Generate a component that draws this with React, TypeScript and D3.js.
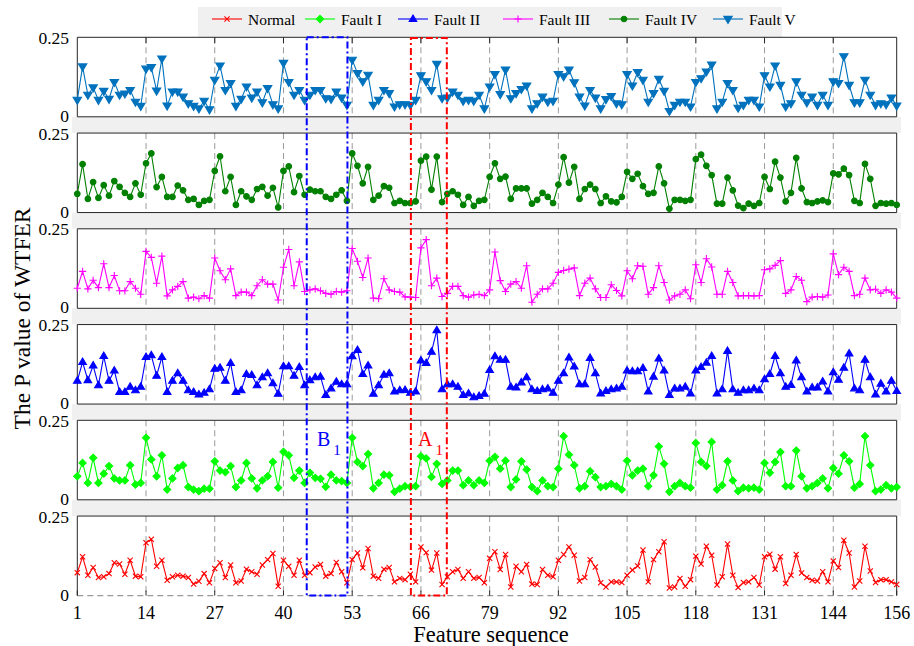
import React from 'react';
import * as d3 from 'd3';

// ---------- data ----------
const xTicks = [1, 14, 27, 40, 53, 66, 79, 92, 105, 118, 131, 144, 156];
const yTicks = [0, 0.25];
const yTickLabels = ['0', '0.25'];
const seriesNames = ['Normal', 'Fault I', 'Fault II', 'Fault III', 'Fault IV', 'Fault V'];

const normal = [0.072,0.122,0.064,0.088,0.057,0.059,0.069,0.103,0.099,0.067,0.111,0.061,0.059,0.166,0.177,0.092,0.111,0.048,0.059,0.064,0.061,0.057,0.036,0.045,0.069,0.040,0.085,0.103,0.057,0.096,0.040,0.046,0.083,0.075,0.067,0.096,0.113,0.132,0.029,0.111,0.092,0.064,0.111,0.064,0.072,0.090,0.098,0.061,0.069,0.104,0.075,0.040,0.113,0.134,0.087,0.148,0.061,0.054,0.083,0.088,0.043,0.054,0.050,0.067,0.043,0.153,0.135,0.080,0.134,0.035,0.059,0.075,0.082,0.054,0.075,0.054,0.057,0.040,0.117,0.138,0.082,0.129,0.027,0.092,0.075,0.098,0.036,0.035,0.082,0.064,0.059,0.111,0.129,0.153,0.127,0.046,0.057,0.113,0.090,0.040,0.027,0.043,0.043,0.041,0.064,0.080,0.093,0.143,0.043,0.113,0.138,0.169,0.024,0.027,0.054,0.029,0.050,0.124,0.099,0.155,0.127,0.033,0.059,0.162,0.064,0.025,0.041,0.043,0.057,0.033,0.122,0.130,0.083,0.122,0.038,0.064,0.129,0.071,0.057,0.048,0.046,0.075,0.043,0.109,0.088,0.174,0.134,0.027,0.046,0.155,0.077,0.041,0.050,0.050,0.043,0.035];

const faultI = [0.074,0.116,0.053,0.132,0.053,0.082,0.106,0.067,0.061,0.061,0.109,0.048,0.053,0.195,0.127,0.074,0.140,0.032,0.067,0.100,0.109,0.040,0.032,0.027,0.035,0.035,0.121,0.092,0.087,0.106,0.040,0.061,0.116,0.067,0.036,0.061,0.074,0.119,0.038,0.151,0.140,0.069,0.092,0.053,0.085,0.069,0.066,0.041,0.079,0.061,0.059,0.053,0.195,0.119,0.106,0.144,0.036,0.053,0.079,0.077,0.025,0.035,0.043,0.041,0.043,0.137,0.130,0.072,0.113,0.050,0.061,0.092,0.092,0.046,0.061,0.046,0.061,0.053,0.123,0.135,0.098,0.123,0.040,0.064,0.121,0.095,0.040,0.027,0.061,0.043,0.040,0.098,0.200,0.142,0.109,0.036,0.043,0.090,0.071,0.040,0.043,0.050,0.043,0.032,0.123,0.077,0.092,0.098,0.043,0.077,0.168,0.113,0.025,0.043,0.053,0.043,0.038,0.179,0.119,0.106,0.182,0.032,0.046,0.121,0.061,0.027,0.038,0.036,0.038,0.032,0.116,0.085,0.119,0.150,0.043,0.043,0.155,0.074,0.036,0.043,0.053,0.067,0.036,0.100,0.082,0.140,0.121,0.038,0.050,0.200,0.109,0.027,0.032,0.046,0.036,0.040];

const faultII = [0.073,0.132,0.075,0.121,0.059,0.151,0.073,0.105,0.038,0.038,0.054,0.043,0.054,0.148,0.153,0.089,0.148,0.038,0.073,0.097,0.073,0.043,0.038,0.030,0.035,0.046,0.111,0.114,0.073,0.129,0.038,0.043,0.094,0.091,0.059,0.084,0.097,0.065,0.032,0.119,0.119,0.089,0.116,0.059,0.075,0.084,0.086,0.028,0.049,0.070,0.062,0.062,0.150,0.170,0.094,0.121,0.032,0.059,0.092,0.097,0.039,0.043,0.044,0.035,0.039,0.137,0.129,0.164,0.232,0.046,0.062,0.062,0.054,0.028,0.033,0.021,0.025,0.032,0.107,0.150,0.139,0.139,0.054,0.052,0.068,0.084,0.046,0.041,0.046,0.049,0.035,0.073,0.097,0.146,0.118,0.062,0.062,0.145,0.097,0.033,0.041,0.046,0.049,0.054,0.105,0.103,0.103,0.113,0.039,0.086,0.143,0.105,0.028,0.049,0.049,0.054,0.033,0.105,0.116,0.130,0.151,0.033,0.046,0.167,0.046,0.035,0.043,0.043,0.049,0.043,0.078,0.094,0.151,0.097,0.054,0.060,0.137,0.084,0.039,0.052,0.052,0.071,0.039,0.100,0.076,0.114,0.159,0.049,0.043,0.139,0.084,0.030,0.064,0.039,0.073,0.041];

const faultIII = [0.063,0.116,0.061,0.088,0.065,0.140,0.065,0.103,0.055,0.055,0.084,0.063,0.044,0.179,0.160,0.079,0.164,0.039,0.058,0.069,0.084,0.032,0.035,0.030,0.040,0.032,0.158,0.118,0.090,0.124,0.040,0.051,0.051,0.040,0.071,0.090,0.076,0.076,0.026,0.129,0.185,0.071,0.146,0.053,0.058,0.061,0.055,0.047,0.044,0.053,0.051,0.055,0.188,0.148,0.097,0.158,0.032,0.030,0.093,0.058,0.053,0.051,0.036,0.035,0.034,0.190,0.216,0.071,0.095,0.037,0.047,0.069,0.069,0.040,0.035,0.042,0.044,0.040,0.058,0.177,0.087,0.053,0.076,0.084,0.063,0.134,0.019,0.044,0.061,0.061,0.079,0.113,0.119,0.123,0.127,0.040,0.079,0.095,0.061,0.034,0.034,0.074,0.056,0.039,0.118,0.093,0.134,0.132,0.044,0.065,0.134,0.081,0.026,0.039,0.044,0.058,0.030,0.137,0.081,0.156,0.130,0.044,0.044,0.116,0.081,0.039,0.040,0.040,0.039,0.040,0.121,0.124,0.135,0.150,0.047,0.058,0.100,0.088,0.021,0.035,0.037,0.035,0.042,0.171,0.106,0.129,0.116,0.040,0.044,0.095,0.058,0.060,0.047,0.058,0.051,0.032];

const faultIV = [0.059,0.152,0.043,0.096,0.046,0.086,0.053,0.099,0.081,0.062,0.049,0.092,0.056,0.155,0.186,0.080,0.112,0.049,0.049,0.085,0.070,0.040,0.043,0.024,0.037,0.040,0.131,0.177,0.067,0.112,0.024,0.067,0.051,0.040,0.074,0.081,0.053,0.078,0.016,0.131,0.145,0.064,0.115,0.056,0.072,0.067,0.067,0.049,0.043,0.056,0.070,0.037,0.186,0.147,0.092,0.144,0.040,0.053,0.083,0.078,0.030,0.037,0.030,0.030,0.035,0.163,0.176,0.072,0.176,0.033,0.059,0.067,0.056,0.024,0.049,0.021,0.037,0.040,0.112,0.155,0.106,0.113,0.043,0.076,0.076,0.076,0.028,0.040,0.062,0.049,0.030,0.088,0.174,0.094,0.144,0.043,0.074,0.088,0.074,0.030,0.051,0.035,0.032,0.049,0.128,0.106,0.122,0.083,0.059,0.062,0.145,0.092,0.012,0.040,0.040,0.037,0.040,0.168,0.182,0.147,0.118,0.028,0.028,0.110,0.070,0.022,0.014,0.028,0.021,0.030,0.112,0.074,0.160,0.110,0.035,0.062,0.172,0.076,0.033,0.030,0.035,0.038,0.033,0.123,0.120,0.138,0.118,0.037,0.030,0.153,0.106,0.021,0.030,0.028,0.030,0.024];

const faultV = [0.053,0.158,0.069,0.092,0.053,0.081,0.056,0.109,0.069,0.073,0.084,0.047,0.034,0.151,0.156,0.082,0.183,0.035,0.079,0.079,0.063,0.042,0.034,0.026,0.050,0.023,0.116,0.161,0.084,0.106,0.034,0.056,0.095,0.060,0.079,0.045,0.090,0.039,0.026,0.169,0.109,0.069,0.084,0.053,0.069,0.084,0.084,0.058,0.056,0.079,0.060,0.037,0.179,0.137,0.111,0.132,0.037,0.053,0.084,0.074,0.032,0.039,0.039,0.037,0.053,0.130,0.111,0.084,0.166,0.058,0.060,0.079,0.069,0.050,0.053,0.050,0.069,0.026,0.095,0.134,0.071,0.148,0.058,0.074,0.087,0.098,0.026,0.042,0.063,0.047,0.050,0.134,0.127,0.148,0.108,0.063,0.035,0.084,0.060,0.026,0.055,0.065,0.042,0.039,0.134,0.098,0.140,0.116,0.047,0.074,0.119,0.081,0.018,0.037,0.047,0.047,0.032,0.109,0.121,0.142,0.164,0.026,0.047,0.106,0.084,0.028,0.037,0.053,0.053,0.032,0.130,0.095,0.161,0.100,0.032,0.042,0.111,0.069,0.045,0.063,0.037,0.069,0.037,0.111,0.106,0.190,0.100,0.045,0.045,0.116,0.069,0.037,0.042,0.039,0.060,0.035];

// highlighted feature ranges (in feature-sequence units)
const boxB = [44.4, 52.1];
const boxA = [64.1, 70.9];

// ---------- styles ----------
type Marker = 'times' | 'diamond' | 'triUp' | 'plus' | 'circle' | 'triDown';
const styles: Record<string, { color: string; marker: Marker }> = {
  'Normal': { color: '#ff0000', marker: 'times' },
  'Fault I': { color: '#00ff00', marker: 'diamond' },
  'Fault II': { color: '#0000ff', marker: 'triUp' },
  'Fault III': { color: '#ff00ff', marker: 'plus' },
  'Fault IV': { color: '#008000', marker: 'circle' },
  'Fault V': { color: '#0072bd', marker: 'triDown' },
};

const dataByName: Record<string, number[]> = {
  'Normal': normal,
  'Fault I': faultI,
  'Fault II': faultII,
  'Fault III': faultIII,
  'Fault IV': faultIV,
  'Fault V': faultV,
};

// top-to-bottom panel order
const panelOrder = ['Fault V', 'Fault IV', 'Fault III', 'Fault II', 'Fault I', 'Normal'];

const FONT = '"Liberation Serif", "Times New Roman", serif';
const X0 = 77.3, X1 = 896.7;
const TOP0 = 37.3, STEP = 95.75, PH = 79.5;
const GRAY = '#f0f0f0';

function markerPath(m: Marker): string {
  switch (m) {
    case 'times': { const s = 2.6; return `M${-s},${-s}L${s},${s}M${-s},${s}L${s},${-s}`; }
    case 'plus': { const s = 3.6; return `M${-s},0L${s},0M0,${-s}L0,${s}`; }
    case 'diamond': { const s = 3.6; return `M0,${-s}L${s},0L0,${s}L${-s},0Z`; }
    case 'triUp': { const s = 4.0; return `M0,${-s}L${s * 0.95},${s * 0.6}L${-s * 0.95},${s * 0.6}Z`; }
    case 'triDown': { const s = 4.4; return `M0,${s}L${s * 0.95},${-s * 0.6}L${-s * 0.95},${-s * 0.6}Z`; }
    case 'circle': { const r = 2.8; return `M${r},0A${r},${r},0,1,1,${-r},0A${r},${r},0,1,1,${r},0Z`; }
  }
}

function isFilled(m: Marker) {
  return m === 'diamond' || m === 'triUp' || m === 'triDown' || m === 'circle';
}

function MarkerGlyph({ m, color, x, y }: { m: Marker; color: string; x: number; y: number }) {
  return (
    <path
      d={markerPath(m)}
      transform={`translate(${x},${y})`}
      fill={isFilled(m) ? color : 'none'}
      stroke={color}
      strokeWidth={1.1}
    />
  );
}

export default function App() {
  const x = d3.scaleLinear().domain([1, 156]).range([X0, X1]);
  const idx = d3.range(1, 157);
  const gridTicks = xTicks.filter((t) => t !== 1 && t !== 156);
  const lastBottom = TOP0 + 5 * STEP + PH;

  const legendItems = [
    { name: seriesNames[0], lx: 212 },
    { name: seriesNames[1], lx: 305 },
    { name: seriesNames[2], lx: 398 },
    { name: seriesNames[3], lx: 503 },
    { name: seriesNames[4], lx: 609 },
    { name: seriesNames[5], lx: 713 },
  ];

  return (
    <svg width={914} height={646} style={{ position: 'absolute', left: 0, top: 0, background: '#fff' }} fontFamily={FONT}>
      <rect x={0} y={0} width={914} height={646} fill="#fff" />
      {/* gray gaps between panels */}
      {panelOrder.slice(0, 5).map((_, k) => {
        const b = TOP0 + k * STEP + PH;
        const t2 = TOP0 + (k + 1) * STEP;
        return <rect key={k} x={72} y={b} width={901 - 72} height={t2 - b} fill={GRAY} />;
      })}
      {/* legend */}
      <rect x={198} y={7} width={584} height={30.3} fill={GRAY} />
      {legendItems.map((it) => {
        const st = styles[it.name];
        return (
          <g key={it.name}>
            <line x1={it.lx} x2={it.lx + 30} y1={19} y2={19} stroke={st.color} strokeWidth={1.1} />
            <MarkerGlyph m={st.marker} color={st.color} x={it.lx + 15} y={19} />
            <text x={it.lx + 36} y={24.5} fontSize={15.5} fill="#000">{it.name}</text>
          </g>
        );
      })}

      {panelOrder.map((name, k) => {
        const top = TOP0 + k * STEP;
        const bot = top + PH;
        const y = d3.scaleLinear().domain([0, 0.25]).range([bot, top]);
        const vals = dataByName[name];
        const st = styles[name];
        const line = d3.line<number>().x((_, i) => x(idx[i])).y((v) => y(v));
        const isLast = k === 5;
        return (
          <g key={name}>
            <rect x={X0} y={top} width={X1 - X0} height={PH} fill="#fff" />
            {gridTicks.map((t) => (
              <line key={t} x1={x(t)} x2={x(t)} y1={top} y2={bot} stroke="#9a9a9a" strokeWidth={1} strokeDasharray="6,4" />
            ))}
            {/* box */}
            <line x1={X0} x2={X1} y1={top} y2={top} stroke="#262626" strokeWidth={1} />
            {isLast ? (
              <line x1={X0} x2={X1} y1={bot} y2={bot} stroke="#9a9a9a" strokeWidth={1.2} strokeDasharray="6,4" />
            ) : (
              <line x1={X0} x2={X1} y1={bot} y2={bot} stroke="#262626" strokeWidth={1} />
            )}
            <line x1={X0} x2={X0} y1={top} y2={bot} stroke="#262626" strokeWidth={1} />
            <line x1={X1} x2={X1} y1={top} y2={bot} stroke="#262626" strokeWidth={1} />
            {k === 0 && gridTicks.map((t) => (
              <line key={'tt' + t} x1={x(t)} x2={x(t)} y1={top} y2={top + 6} stroke="#262626" strokeWidth={1} />
            ))}
            {isLast && xTicks.map((t) => (
              <line key={'bt' + t} x1={x(t)} x2={x(t)} y1={bot} y2={bot - 5} stroke="#262626" strokeWidth={1} />
            ))}
            {/* y tick labels */}
            {yTicks.map((t, j) => (
              <text key={t} x={69} y={y(t) + (t === 0 ? 5 : 6.5)} fontSize={17.5} textAnchor="end" fill="#000">{yTickLabels[j]}</text>
            ))}
            {/* series */}
            <path d={line(vals) || ''} fill="none" stroke={st.color} strokeWidth={1.1} />
            {vals.map((v, i) => (
              <MarkerGlyph key={i} m={st.marker} color={st.color} x={x(idx[i])} y={y(v)} />
            ))}
          </g>
        );
      })}

      {/* x tick labels */}
      {xTicks.map((t) => (
        <text key={t} x={x(t)} y={619} fontSize={18} textAnchor="middle" fill="#000">{t}</text>
      ))}
      <text x={491} y={642} fontSize={22.5} textAnchor="middle" fill="#000">Feature sequence</text>
      <text transform={`translate(30,${(TOP0 + lastBottom) / 2 + 2}) rotate(-90)`} fontSize={23.5} textAnchor="middle" fill="#000">The P value of WTFER</text>

      {/* highlight boxes */}
      <rect x={x(boxB[0])} y={TOP0} width={x(boxB[1]) - x(boxB[0])} height={lastBottom - TOP0}
        fill="none" stroke="#0000ff" strokeWidth={2} strokeDasharray="7,3,2,3" />
      <rect x={x(boxA[0])} y={TOP0 + 0.8} width={x(boxA[1]) - x(boxA[0])} height={lastBottom - TOP0 - 0.8}
        fill="none" stroke="#ff0000" strokeWidth={2} strokeDasharray="7,3,2,3" />
      <text x={317} y={446} fontSize={20} fill="#0000ff">B<tspan dx={3} dy={9} fontSize={15}>1</tspan></text>
      <text x={418} y={446} fontSize={20} fill="#ff0000">A<tspan dx={3} dy={9} fontSize={15}>1</tspan></text>
    </svg>
  );
}
